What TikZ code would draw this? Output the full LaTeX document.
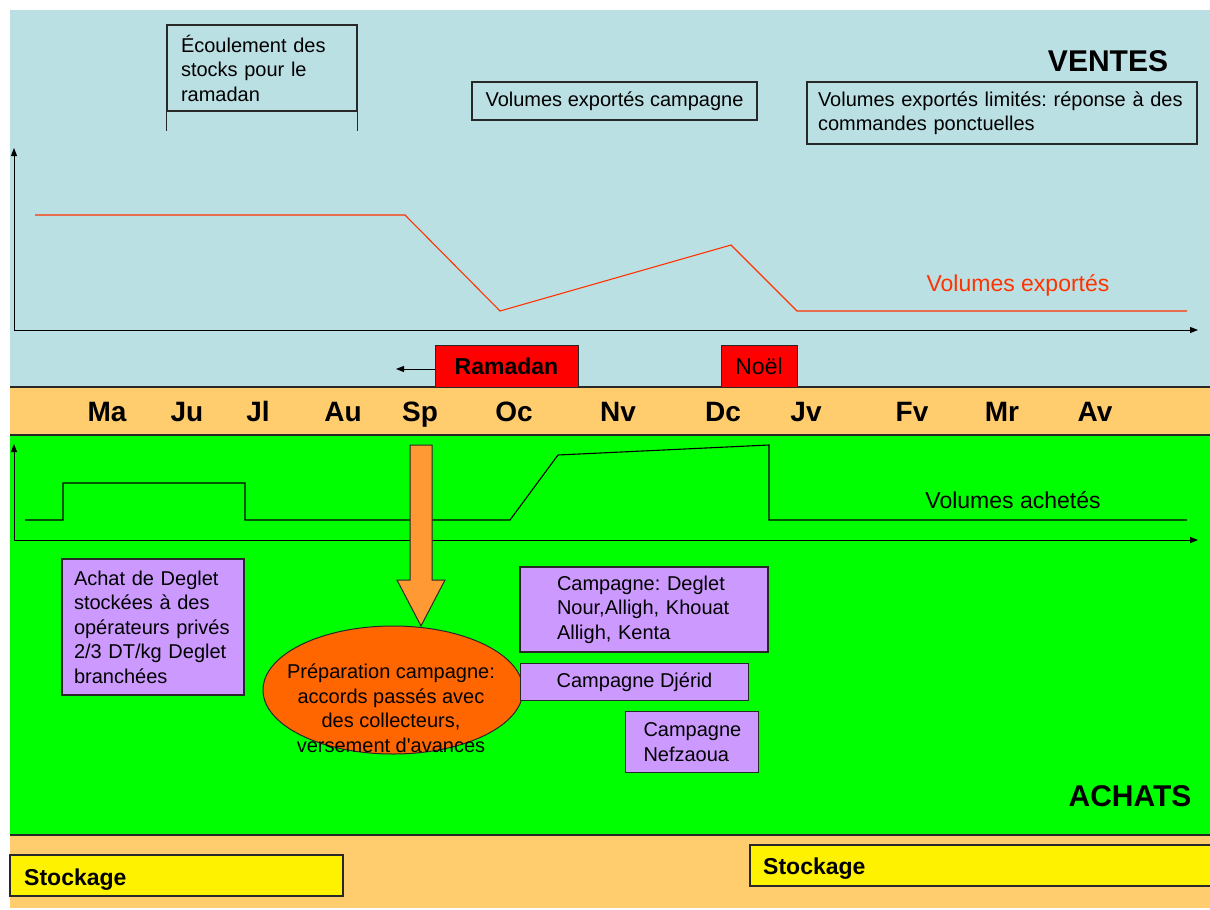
\documentclass[tikz,border=0pt]{standalone}
\usepackage{fontspec}
\setmainfont{Liberation Sans}
\usetikzlibrary{arrows.meta,shapes.geometric}
\definecolor{skyband}{RGB}{187,224,228}
\definecolor{monthband}{RGB}{255,204,110}
\definecolor{achatgreen}{RGB}{0,255,0}
\definecolor{lilac}{RGB}{204,153,255}
\definecolor{prepfill}{RGB}{255,102,0}
\definecolor{arrowfill}{RGB}{255,153,51}
\definecolor{venteline}{RGB}{255,51,0}
\definecolor{edge}{RGB}{40,40,40}
\newcommand\boxfont{\fontsize{20}{24.5}\selectfont}
\newcommand\monthfont{\fontsize{28}{32}\selectfont\bfseries}
\newcommand\titlefont{\fontsize{30}{34}\selectfont\bfseries}
\newcommand\tagfont{\fontsize{23}{27}\selectfont}
\tikzset{
  bandline/.style={draw=edge,line width=1.3pt},
  axis/.style={draw=black,line width=1pt,-{Triangle[length=8pt,width=6pt]}},
  textbox/.style={draw=edge,line width=1.2pt,inner ysep=0pt,align=left,font=\boxfont},
  lilacbox/.style={textbox,fill=lilac},
  redtag/.style={draw=edge,line width=1pt,fill=red,inner sep=0pt,font=\tagfont},
  yellowtag/.style={draw=edge,line width=1.2pt,fill=yellow,inner sep=0pt},
  month/.style={anchor=base,font=\monthfont,inner sep=0pt},
  curve/.style={line width=1.1pt,line join=miter},
}
\begin{document}
\frenchspacing
\begin{tikzpicture}[x=1pt,y=-1pt]
\useasboundingbox (0,0) rectangle (1210,910);
\fill[white] (0,0) rectangle (1210,910);

% background bands
\fill[skyband] (10,10) rectangle (1210,387);
\fill[monthband] (10,387) rectangle (1210,435);
\fill[achatgreen] (10,435) rectangle (1210,835);
\fill[monthband] (10,835) rectangle (1210,908);
\draw[bandline] (10,387) -- (1210,387);
\draw[bandline] (10,435) -- (1210,435);
\draw[bandline] (10,835) -- (1210,835);

% ---------------- VENTES ----------------
\node[anchor=base,font=\titlefont,inner sep=0pt] (ventes) at (1108,71) {VENTES};

\node[textbox,minimum width=190,minimum height=86,inner xsep=14pt,text width=162] (ecoul) at (262,68)
  {Écoulement des\\stocks pour le\\ramadan};
\draw[draw=edge,line width=1.2pt] (ecoul.south west) -- ++(0,19);
\draw[draw=edge,line width=1.2pt] (ecoul.south east) -- ++(0,19);

\node[textbox,minimum width=285,minimum height=38,align=center] (campv) at (614.5,101)
  {Volumes exportés campagne};
\node[textbox,minimum width=390,minimum height=62,inner xsep=11pt,text width=368] (limv) at (1002,113)
  {Volumes exportés limités: réponse à des\\commandes ponctuelles};

% sales axes and curve
\coordinate (vo) at (14,330);
\coordinate (vy) at (14,148);
\coordinate (vx) at (1198,330);
\draw[axis] (vo) -- (vy);
\draw[axis] (vo) -- (vx);
\draw[curve,draw=venteline] (35,215) -- (405,215) -- (500,311) -- (731,245) -- (797,311) -- (1187,311);
\node[font=\tagfont,text=venteline,inner sep=0pt] (vexp) at (1018,285) {Volumes exportés};

% events
\node[redtag,minimum width=143,minimum height=42,font=\tagfont\bfseries] (ram) at (506.5,366) {Ramadan};
\coordinate (ramto) at (396,369);
\draw[line width=1pt,-{Triangle[length=8pt,width=6pt]}] (ram.west |- ramto) -- (ramto);
\node[redtag,minimum width=76,minimum height=42] (noel) at (759,366) {Noël};

% ---------------- months ----------------
\node[month] (m1) at (107,421) {Ma};
\node[month] (m2) at (187,421) {Ju};
\node[month] (m3) at (258,421) {Jl};
\node[month] (m4) at (343,421) {Au};
\node[month] (m5) at (420,421) {Sp};
\node[month] (m6) at (514,421) {Oc};
\node[month] (m7) at (618,421) {Nv};
\node[month] (m8) at (723,421) {Dc};
\node[month] (m9) at (806,421) {Jv};
\node[month] (m10) at (912,421) {Fv};
\node[month] (m11) at (1002,421) {Mr};
\node[month] (m12) at (1095,421) {Av};

% ---------------- ACHATS ----------------
\coordinate (ao) at (14,540);
\coordinate (ay) at (14,444);
\coordinate (ax) at (1198,540);
\draw[axis] (ao) -- (ay);
\draw[axis] (ao) -- (ax);
\draw[curve,draw=black] (25,520) -- (63,520) -- (63,483) -- (245,483) -- (245,520) -- (510,520)
  -- (558,455) -- (769,445) -- (769,520) -- (1187,520);
\node[font=\tagfont,inner sep=0pt] (vach) at (1013,500) {Volumes achetés};

\node[anchor=base,font=\titlefont,inner sep=0pt] (achats) at (1130,806) {ACHATS};

% preparation arrow
\filldraw[fill=arrowfill,draw=edge,line width=1pt]
  (410,445) -- (432,445) -- (432,580) -- (445,580) -- (421,626) -- (397,580) -- (410,580) -- cycle;

\node[ellipse,draw=edge,line width=1pt,fill=prepfill,minimum width=260,minimum height=128,inner sep=0pt] (prep) at (393,690) {};
\node[font=\boxfont,align=center,inner sep=0pt] (preptext) at (391,708)
  {Préparation campagne:\\accords passés avec\\des collecteurs,\\versement d\textquotesingle avances};

\node[lilacbox,minimum width=182,minimum height=136,inner xsep=12pt,text width=158] (achat) at (153,627)
  {Achat de Deglet\\stockées à des\\opérateurs privés\\2/3 DT/kg Deglet\\branchées};
\node[lilacbox,minimum width=248,minimum height=85,inner xsep=37pt,text width=174] (camp1) at (644,609.5)
  {Campagne: Deglet\\Nour,Alligh, Khouat\\Alligh, Kenta};
\node[lilacbox,minimum width=228,minimum height=37,align=center] (camp2) at (634.5,682)
  {Campagne Djérid};
\node[lilacbox,minimum width=133,minimum height=61,inner xsep=18pt,text width=97] (camp3) at (692,742)
  {Campagne\\Nefzaoua};

% storage
\node[yellowtag,minimum width=333,minimum height=41] (stock1) at (176.5,875.5) {};
\node[anchor=base west,font=\tagfont\bfseries,inner sep=0pt] (stock1t) at (24,885) {Stockage};
\node[yellowtag,minimum width=462,minimum height=41] (stock2) at (981,865.5) {};
\node[anchor=base west,font=\tagfont\bfseries,inner sep=0pt] (stock2t) at (763,874) {Stockage};
\end{tikzpicture}
\end{document}
